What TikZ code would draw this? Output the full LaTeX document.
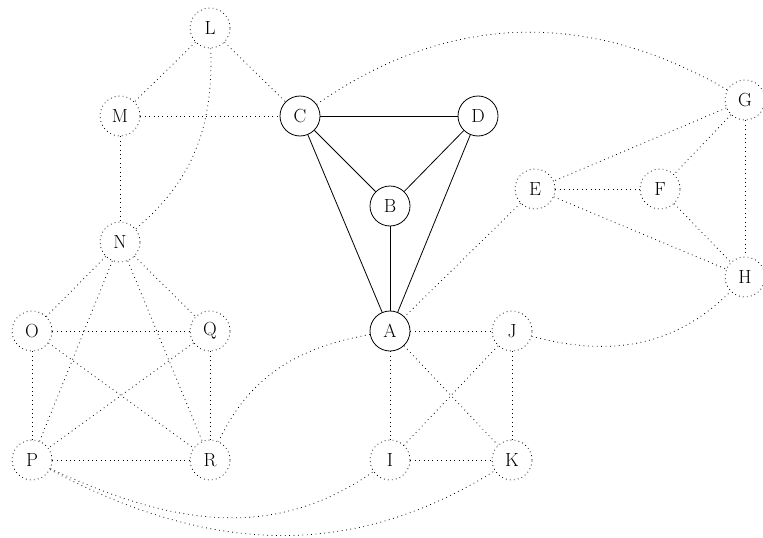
\documentclass[tikz,border=0pt]{standalone}
\begin{document}
\begin{tikzpicture}[x=1pt,y=-1pt,
  vtx/.style={circle,minimum size=40pt,inner sep=0pt,font=\fontsize{19}{22}\selectfont},
  main/.style={vtx,draw,line width=0.8pt},
  aux/.style={vtx,draw,line width=0.8pt,dash pattern=on 0.8pt off 3.2pt},
  solid edge/.style={line width=0.8pt},
  dot edge/.style={line width=0.8pt,dash pattern=on 0.8pt off 3.6pt}]
\useasboundingbox (0,0) rectangle (763,538);
\node[aux] (L) at (210,28) {L};
\node[aux] (M) at (120,116) {M};
\node[main] (C) at (300,116) {C};
\node[main] (D) at (478,116) {D};
\node[aux] (G) at (745,100) {G};
\node[main] (B) at (390,206) {B};
\node[aux] (E) at (535,189) {E};
\node[aux] (F) at (660,189) {F};
\node[aux] (N) at (120,242) {N};
\node[aux] (H) at (745,277) {H};
\node[aux] (O) at (32,331) {O};
\node[aux] (Q) at (210,331) {Q};
\node[main] (A) at (390,331) {A};
\node[aux] (J) at (512,331) {J};
\node[aux] (P) at (32,460) {P};
\node[aux] (R) at (210,460) {R};
\node[aux] (I) at (390,460) {I};
\node[aux] (K) at (512,460) {K};
% solid
\draw[solid edge] (C) -- (D);
\draw[solid edge] (C) -- (B);
\draw[solid edge] (D) -- (B);
\draw[solid edge] (C) -- (A);
\draw[solid edge] (D) -- (A);
\draw[solid edge] (B) -- (A);
% dotted
\draw[dot edge] (L) -- (M);
\draw[dot edge] (L) -- (C);
\draw[dot edge] (L) to[out=-88,in=40] (N);
\draw[dot edge] (M) -- (C);
\draw[dot edge] (M) -- (N);
\draw[dot edge] (C) to[out=35,in=150] (G);
\draw[dot edge] (G) -- (E);
\draw[dot edge] (G) -- (F);
\draw[dot edge] (G) -- (H);
\draw[dot edge] (E) -- (F);
\draw[dot edge] (E) -- (H);
\draw[dot edge] (F) -- (H);
\draw[dot edge] (E) -- (A);
\draw[dot edge] (J) to[out=-15,in=-135] (H);
\draw[dot edge] (A) -- (J);
\draw[dot edge] (A) -- (I);
\draw[dot edge] (A) -- (K);
\draw[dot edge] (J) -- (I);
\draw[dot edge] (J) -- (K);
\draw[dot edge] (I) -- (K);
\draw[dot edge] (A) to[out=190,in=65] (R);
\draw[dot edge] (N) -- (O);
\draw[dot edge] (N) -- (Q);
\draw[dot edge] (N) -- (P);
\draw[dot edge] (N) -- (R);
\draw[dot edge] (O) -- (Q);
\draw[dot edge] (O) -- (P);
\draw[dot edge] (O) -- (R);
\draw[dot edge] (Q) -- (P);
\draw[dot edge] (Q) -- (R);
\draw[dot edge] (P) -- (R);
\draw[dot edge] (P) to[out=-25,in=-145] (I);
\draw[dot edge] (P) to[out=-28,in=-148] (K);
\end{tikzpicture}
\end{document}
